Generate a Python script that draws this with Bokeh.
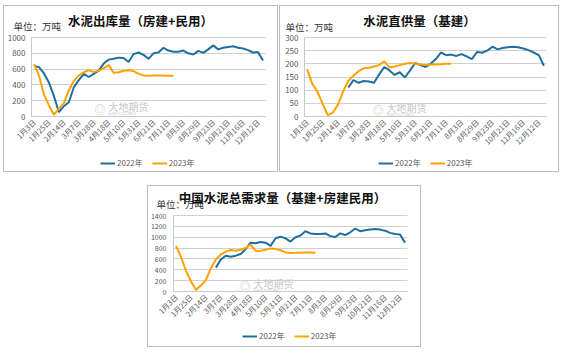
import math
from bokeh.plotting import figure
from bokeh.models import Range1d, FixedTicker, Label, Legend, LegendItem, Spacer, Grid
from bokeh.layouts import column, row
from bokeh.embed import file_html
from bokeh.resources import INLINE

# ---------------- data ----------------
n_cat = 47
tick_idx = [0, 3, 6, 9, 12, 15, 18, 21, 24, 27, 30, 33, 36, 39, 42, 45]
tick_labels = ["1月3日", "1月25日", "2月14日", "3月7日", "3月28日", "4月18日", "5月10日", "5月31日",
               "6月21日", "7月11日", "8月3日", "8月29日", "9月23日", "10月21日", "11月16日", "12月12日"]

# 水泥出库量（房建+民用）
out_2022 = [640, 625, 545, 430, 260, 55, 130, 180, 370, 460,
            540, 500, 540, 580, 670, 720, 730, 745, 740, 690,
            790, 810, 780, 730, 800, 810, 870, 835, 820, 820,
            835, 800, 785, 830, 805, 850, 900, 850, 870, 880,
            890, 870, 860, 840, 810, 815, 710]
out_2023 = [660, 520, 280, 140, 25, 100, 170, 330, 450, 520,
            560, 585, 565, 580, 610, 650, 555, 560, 580, 585,
            575, 540, 520, 515, 518, 520, 520, 515, 515]

# 水泥直供量（基建）— 2022 starts at category 8
sup_2022_start = 8
sup_2022 = [110, 138, 128, 135, 133, 128, 160, 188, 175, 158,
            168, 148, 175, 203, 195, 188, 200, 218, 243, 233,
            235, 230, 237, 228, 218, 245, 242, 250, 265, 255,
            260, 263, 265, 263, 258, 252, 243, 233, 192]
sup_2023 = [180, 125, 95, 50, 5, 15, 45, 95, 135, 155,
            172, 183, 185, 190, 195, 210, 186, 190, 195, 200,
            203, 200, 197, 196, 197, 197, 198, 200, 200]

# 中国水泥总需求量（基建+房建民用）
tot_2022_start = 8
tot_2022 = [440, 590, 660, 640, 660, 690, 780, 900, 890, 910,
            900, 840, 980, 1010, 980, 920, 1000, 1030, 1110, 1070,
            1060, 1060, 1070, 1020, 1005, 1070, 1040, 1090, 1160, 1110,
            1130, 1140, 1150, 1140, 1120, 1080, 1060, 1050, 900]
tot_2023 = [840, 640, 380, 190, 30, 110, 210, 430, 590, 680,
            735, 765, 750, 770, 800, 865, 745, 750, 770, 790,
            785, 760, 720, 710, 712, 715, 720, 718, 715]

# ---------------- style ----------------
BLUE = "#1e6fa0"
ORANGE = "#ffa200"
GRID = "#d0d0d0"
FONT = "Noto Sans CJK SC"
TXT = "#595959"
HAS_CROSS = "cross_bounds" in Grid.properties()


def make_panel(title, y_max, y_step, s22, start22, s23, box, area,
               title_xy, unit_xy, legend_xy, wm_xy, ylab_size, ylab_off):
    # box: outer panel (left, top, width, height) in page px
    # area: plot area (left, top, right, bottom) in page px
    bl, bt, bw, bh = box
    iw, ih = bw - 2, bh - 2
    il, it = bl + 1, bt + 1
    ib = it + ih
    al, at, ar, ab = area
    xs = n_cat / (ar - al)          # data units per px (x)
    ys = y_max / (ab - at)          # data units per px (y)
    x0 = -0.5 - (al - il) * xs
    x1 = n_cat - 0.5 + (il + iw - ar) * xs
    y0 = -(ib - ab) * ys
    y1 = y_max + (at - it) * ys

    p = figure(width=iw, height=ih, output_backend="svg", toolbar_location=None,
               x_range=Range1d(x0, x1), y_range=Range1d(y0, y1),
               min_border=0, min_border_left=0, min_border_right=0,
               min_border_top=0, min_border_bottom=0,
               styles={"border": "1px solid #bdbdbd"})
    p.outline_line_color = None
    p.background_fill_color = "white"
    p.border_fill_color = "white"
    p.xgrid.grid_line_color = None
    p.ygrid.grid_line_color = GRID
    p.ygrid.grid_line_width = 1
    if HAS_CROSS:
        p.ygrid.cross_bounds = (-0.5, n_cat - 0.5)
    p.yaxis.ticker = FixedTicker(ticks=list(range(0, y_max + 1, y_step)))
    p.yaxis.bounds = (0, y_max)
    p.yaxis.fixed_location = -0.5
    p.xaxis.ticker = FixedTicker(ticks=tick_idx)
    p.xaxis.bounds = (-0.5, n_cat - 0.5)
    p.xaxis.fixed_location = 0
    p.xaxis.major_label_overrides = {i: t for i, t in zip(tick_idx, tick_labels)}
    p.xaxis.major_label_orientation = math.pi / 4
    for ax in (p.xaxis, p.yaxis):
        ax.major_tick_line_color = None
        ax.minor_tick_line_color = None
        ax.major_tick_out = 0
        ax.major_tick_in = 0
        ax.minor_tick_out = 0
        ax.minor_tick_in = 0
        ax.axis_line_color = "#c8c8c8"
        ax.major_label_text_font = FONT
        ax.major_label_text_color = TXT
    p.yaxis.major_label_text_font_size = ylab_size
    p.yaxis.major_label_standoff = ylab_off
    p.xaxis.major_label_text_font_size = "7.5px"
    p.xaxis.major_label_standoff = 4

    x22 = list(range(start22, start22 + len(s22)))
    x23 = list(range(len(s23)))
    r22 = p.line(x22, s22, line_color=BLUE, line_width=2)
    r23 = p.line(x23, s23, line_color=ORANGE, line_width=2)

    def scr(xy):
        return (xy[0] - il, ib - xy[1])

    legend = Legend(items=[LegendItem(label="2022年", renderers=[r22]),
                           LegendItem(label="2023年", renderers=[r23])],
                    orientation="horizontal", location=scr(legend_xy),
                    border_line_color=None, background_fill_alpha=0,
                    padding=0, margin=0, spacing=9, glyph_width=15, glyph_height=10,
                    label_height=10, label_standoff=2,
                    label_text_font_size="8px", label_text_font=FONT, label_text_color=TXT)
    p.add_layout(legend)

    def lab(xy, text, size, color, align="left", style="normal"):
        sx, sy = scr(xy)
        p.add_layout(Label(x=sx, y=sy, x_units="screen", y_units="screen",
                           text=text, text_font=FONT, text_font_size=size,
                           text_font_style=style, text_color=color,
                           text_align=align, text_baseline="middle"))

    lab(wm_xy, "大地期货", "10px", "#c8c8c8")
    lab((wm_xy[0], wm_xy[1] + 6), "DADI FUTURES", "4px", "#c8c8c8")
    lab((wm_xy[0] - 14, wm_xy[1] + 2), "◎", "11px", "#d8c9a8")
    lab(unit_xy, "单位：万吨", "9.5px", "#333333")
    lab(title_xy, title, "12.5px", "#111111", align="center", style="bold")
    return p


p1 = make_panel("水泥出库量（房建+民用）", 1000, 200, out_2022, 0, out_2023,
                (3, 5, 277, 169), (31, 37, 265, 116),
                (140, 20), (13, 25), (100, 168), (108, 106), "8px", 6)
p2 = make_panel("水泥直供量（基建）", 300, 50, sup_2022, sup_2022_start, sup_2023,
                (281, 5, 282, 169), (306, 37, 548, 116),
                (421, 20), (287, 26), (380, 168), (388, 107), "8px", 6)
p3 = make_panel("中国水泥总需求量（基建+房建民用）", 1400, 200, tot_2022, tot_2022_start, tot_2023,
                (147, 187, 276, 164), (173, 217, 407, 293),
                (282, 199), (156, 205), (242, 343), (253, 285), "7px", 7)

layout = column(Spacer(height=5),
                row(Spacer(width=3), p1, Spacer(width=1), p2),
                Spacer(height=13),
                row(Spacer(width=147), p3))

open("out.html", "w").write(file_html(layout, INLINE))
